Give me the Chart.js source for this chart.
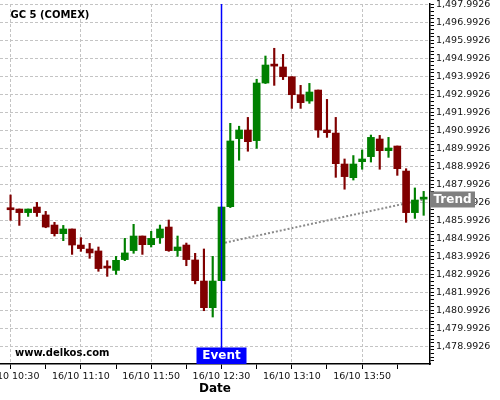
<!DOCTYPE html>
<html><head><meta charset="utf-8">
<script src="https://cdn.jsdelivr.net/npm/chart.js@4"></script>
<style>html,body{margin:0;padding:0;background:#fff;overflow:hidden}#wrap{width:500px;height:400px;position:relative}</style>
</head><body><div id="wrap"><canvas id="c" width="500" height="400"></canvas></div>
<script>
const chartTitle = "GC 5 (COMEX)";
const watermark = "www.delkos.com";
const xTitle = "Date";
const eventLabel = "Event";
const trendLabel = "Trend";

const openP  = [1486.59,1486.62,1486.42,1486.73,1486.29,1485.73,1485.25,1485.51,1484.62,1484.40,1484.29,1483.35,1483.21,1483.81,1484.31,1485.12,1484.64,1485.03,1485.62,1484.31,1484.62,1483.79,1482.62,1481.14,1482.64,1486.75,1490.53,1491.01,1490.42,1493.62,1494.57,1494.51,1493.97,1492.97,1492.62,1493.23,1491.01,1490.84,1489.12,1488.36,1489.25,1489.53,1490.51,1489.86,1490.12,1488.73,1486.42,1487.17];
const highP  = [1487.40,1486.62,1486.62,1486.99,1486.49,1485.88,1485.71,1485.51,1485.03,1484.71,1484.51,1483.75,1483.99,1484.99,1485.77,1485.12,1485.38,1485.73,1486.01,1485.12,1484.73,1484.16,1484.40,1483.99,1486.73,1491.38,1491.22,1491.71,1493.83,1495.12,1495.55,1495.21,1493.97,1493.49,1493.60,1493.23,1492.71,1491.71,1489.40,1489.59,1489.90,1490.73,1490.71,1490.60,1490.12,1488.86,1487.79,1487.60];
const lowP   = [1485.99,1485.71,1486.21,1486.21,1485.58,1485.12,1484.86,1484.10,1484.27,1483.88,1483.16,1482.88,1482.99,1483.75,1484.16,1484.10,1484.51,1484.71,1484.27,1483.99,1483.47,1482.46,1480.97,1480.62,1482.64,1486.70,1489.33,1489.83,1489.99,1493.59,1493.49,1493.81,1492.21,1492.21,1492.49,1490.60,1490.60,1488.38,1487.72,1488.23,1488.83,1489.23,1488.83,1489.49,1488.49,1485.88,1486.10,1486.27];
const closeP = [1486.58,1486.42,1486.62,1486.42,1485.62,1485.25,1485.51,1484.62,1484.42,1484.18,1483.31,1483.34,1483.77,1484.18,1485.12,1484.64,1484.99,1485.51,1484.31,1484.51,1483.81,1482.64,1481.14,1482.62,1486.73,1490.40,1491.01,1490.36,1493.62,1494.62,1494.56,1493.97,1492.97,1492.53,1493.12,1491.01,1490.86,1489.14,1488.42,1489.12,1489.40,1490.60,1489.86,1490.01,1488.86,1486.42,1487.12,1487.18];

const xTickIndex  = [0, 8, 16, 24, 32, 40];
const xTickLabels = ["16/10 10:30","16/10 11:10","16/10 11:50","16/10 12:30","16/10 13:10","16/10 13:50"];
const xMinorIndex = [4, 12, 20, 28, 36, 44];
const yFirstTick = 1478.9926, yLastTick = 1497.9926;

const eventIndex = 24;
const trendX = [24.4, 47.0];
const trendY = [1484.75, 1487.15];

const yMin = 1478.01, yMax = 1498.01;
const xMin = -1.2, xMax = 47.72;

const FONT = "'DejaVu Sans', sans-serif";
const UP = '#008000', DOWN = '#800000';
const candleColors = openP.map((o, i) => closeP[i] >= o ? UP : DOWN);

const yTickValues = [];
for (let k = -4; k <= 95; k++) {
  const v = yFirstTick + k * 0.2;
  if (v > yMin && v < yMax) yTickValues.push(+v.toFixed(4));
}
const isMajorY = v => Math.abs((v - yFirstTick) - Math.round(v - yFirstTick)) < 1e-6;
const fmtY = v => v.toLocaleString('en-US', {minimumFractionDigits: 4, maximumFractionDigits: 4});
const allXTicks = [...xTickIndex, ...xMinorIndex].sort((a, b) => a - b);

const overlay = {
  id: 'overlay',
  afterDatasetsDraw(chart) {
    const ctx = chart.ctx;
    ctx.save();
    ctx.fillStyle = '#000';
    ctx.textBaseline = 'middle';
    ctx.textAlign = 'left';
    ctx.font = "bold 10px " + FONT;
    ctx.fillText(chartTitle, 10.5, 15.5);
    ctx.fillText(watermark, 15, 353.5);
    ctx.restore();
  },
  afterDraw(chart) {
    const ctx = chart.ctx, ca = chart.chartArea;
    const xs = chart.scales.x, ys = chart.scales.y;
    ctx.save();
    const ex = xs.getPixelForValue(eventIndex);
    ctx.fillStyle = '#0000ff';
    ctx.fillRect(ex - 25, ca.bottom - 16.5, 50, 16.5);
    ctx.fillStyle = '#fff';
    ctx.font = "bold 12px " + FONT;
    ctx.textAlign = 'center';
    ctx.textBaseline = 'middle';
    ctx.fillText(eventLabel, ex, ca.bottom - 8);
    const ty = ys.getPixelForValue(trendY[trendY.length - 1]);
    ctx.fillStyle = '#808080';
    ctx.fillRect(ca.right, ty - 8, 45, 16);
    ctx.fillStyle = '#fff';
    ctx.fillText(trendLabel, ca.right + 22.5, ty + 0.5);
    ctx.restore();
  }
};

new Chart(document.getElementById('c'), {
  type: 'bar',
  data: {
    datasets: [
      { type: 'bar', label: 'body', data: openP.map((o, i) => ({x: i, y: [o, closeP[i]]})),
        backgroundColor: candleColors, borderWidth: 0, barThickness: 7, minBarLength: 2, grouped: false, order: 0 },
      { type: 'bar', label: 'wick', data: lowP.map((l, i) => ({x: i, y: [l, highP[i]]})),
        backgroundColor: candleColors, borderWidth: 0, barThickness: 1.5, grouped: false, order: 1 },
      { type: 'line', label: 'trend', data: trendX.map((x, i) => ({x: x, y: trendY[i]})),
        borderColor: '#8a8a8a', borderWidth: 2, borderDash: [2, 2], pointRadius: 0, order: 2 },
      { type: 'line', label: 'event', data: [{x: eventIndex, y: yMin}, {x: eventIndex, y: yMax}],
        borderColor: '#0000ff', borderWidth: 1.5, pointRadius: 0, order: -1 }
    ]
  },
  options: {
    responsive: false,
    animation: false,
    devicePixelRatio: 1,
    layout: { padding: { top: 4, left: 0, right: 0, bottom: 0 } },
    plugins: { legend: { display: false }, tooltip: { enabled: false }, title: { display: false } },
    scales: {
      x: {
        type: 'linear', min: xMin, max: xMax, offset: false,
        afterBuildTicks: s => { s.ticks = allXTicks.map(v => ({value: v})); },
        afterFit: s => { s.height = 36; s.paddingLeft = 0; s.paddingRight = 0; },
        grid: { offset: false, color: c => (c.tick && xTickIndex.includes(c.tick.value)) ? '#c4c4c4' : 'rgba(0,0,0,0)',
                lineWidth: 1, tickLength: 5, tickColor: '#000', drawTicks: true },
        border: { display: true, color: '#000', width: 1.5, dash: [3, 2] },
        ticks: { autoSkip: false, maxRotation: 0, minRotation: 0, padding: 2, color: '#111',
                 font: { family: FONT, size: 9.5 },
                 callback: v => { const k = xTickIndex.indexOf(v); return k >= 0 ? xTickLabels[k] : ''; } },
        title: { display: true, text: xTitle, color: '#000', font: { family: FONT, size: 12, weight: 'bold' },
                 padding: { top: 0, bottom: 4 } }
      },
      y: {
        type: 'linear', position: 'right', min: yMin, max: yMax,
        afterBuildTicks: s => { s.ticks = yTickValues.map(v => ({value: v})); },
        afterFit: s => { s.width = 70; s.paddingTop = 0; s.paddingBottom = 0; },
        grid: { color: c => (c.tick && isMajorY(c.tick.value)) ? '#c4c4c4' : 'rgba(0,0,0,0)',
                lineWidth: 1, tickLength: 4, tickColor: '#000', drawTicks: true },
        border: { display: true, color: '#000', width: 1.5, dash: [3, 2] },
        ticks: { autoSkip: false, padding: 2, color: '#111', font: { family: FONT, size: 9.5 },
                 callback: v => isMajorY(v) ? fmtY(v) : '' }
      }
    }
  },
  plugins: [overlay]
});
</script></body></html>
